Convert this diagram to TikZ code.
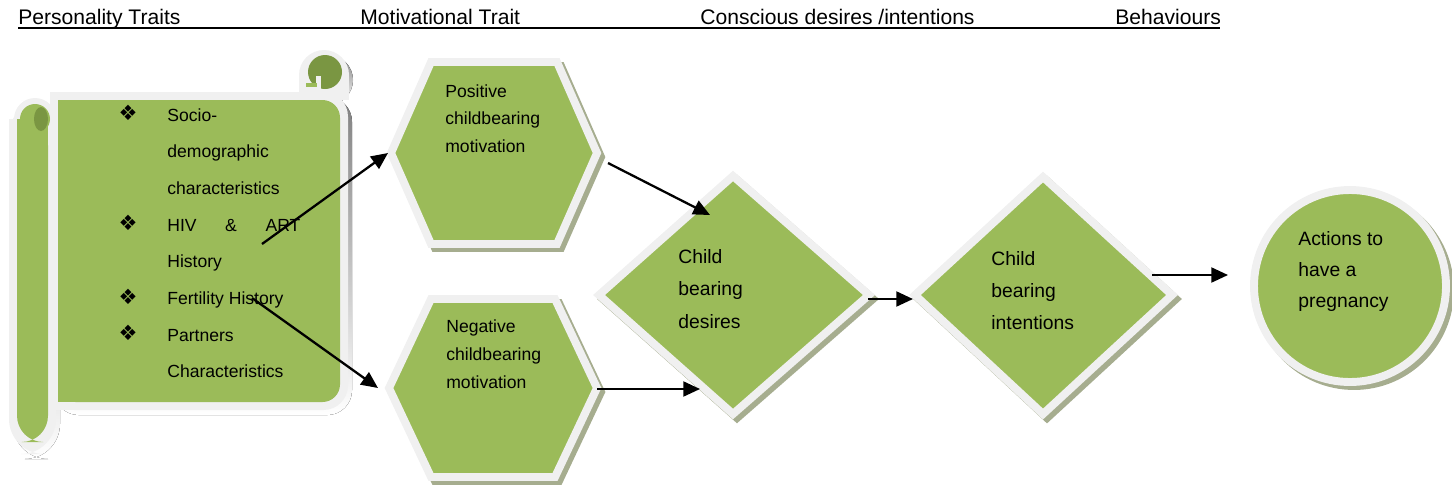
\documentclass[tikz,border=0pt]{standalone}
\usepackage{fontspec}
\setmainfont{Liberation Sans}
\newfontfamily\symfont{DejaVu Sans}
\usetikzlibrary{arrows.meta, calc}
\definecolor{leaf}{RGB}{155,187,89}
\definecolor{leafdark}{RGB}{122,150,66}
\definecolor{rim}{RGB}{240,240,240}
\definecolor{shade}{RGB}{166,173,143}

\begin{document}
\begin{tikzpicture}[x=0.02cm, y=-0.02cm, >={Triangle[length=9.5pt,width=8.5pt]},
		arr/.style={->, line width=1.3pt},
		shadow/.style={fill=shade, draw=shade, line width=4.5pt, shift={(4,4)}},
		panel/.style={fill=leaf, draw=rim, line width=4.5pt},
		head/.style={anchor=base west, inner sep=0pt, font=\fontsize{12}{14}\selectfont},
		item/.style={anchor=base west, inner sep=0pt, font=\fontsize{10}{12}\selectfont},
		big/.style={anchor=base west, inner sep=0pt, font=\fontsize{11}{13}\selectfont},
		bullet/.style={inner sep=0pt, font=\symfont\fontsize{12}{14}\selectfont}]
	
	\useasboundingbox (0,0) rectangle (1452,484);
	
	%========================
	% Header row
	%========================
	\node[head] (h1) at (18,24) {Personality Traits};
	\node[head] (h2) at (360,24) {Motivational Trait};
	\node[head] (h3) at (700,24) {Conscious desires /intentions};
	\node[head] (h4) at (1115,24) {Behaviours};
	\draw[line width=0.9pt] (18,28) -- (1220,28);
	
	%========================
	% Scroll: personality traits
	%========================
	% shadow
	\begin{scope}[shift={(4,5)}]
		\fill[shade, rounded corners=14] (50,92) rectangle (348,410);
		\fill[shade, rounded corners=20] (9,100) rectangle (56,454);
		\fill[shade] (324,75) circle (25);
	\end{scope}
	% rim
	\fill[rim, rounded corners=14] (50,92) rectangle (348,410);
	\fill[rim] (50,92) rectangle (80,410);
	\fill[rim, rounded corners=20] (9,100) rectangle (56,454);
	\fill[rim] (9,119) rectangle (56,200);
	\fill[rim] (35,119) circle (21);
	\fill[rim] (324,75) circle (25);
	\fill[rim] (299,75) rectangle (349,100);
	% green parts
	\fill[leaf, rounded corners=10] (58,100) rectangle (340,402);
	\fill[leaf] (58,100) rectangle (90,402);
	\fill[leaf, rounded corners=15] (17,119) rectangle (48,442);
	\fill[leaf] (17,119) rectangle (48,200);
	\fill[leaf] (35,119) circle (15);
	\fill[leafdark] (41,119) ellipse (7 and 12);
	\fill[leafdark] (325,72) circle (17);
	\fill[rim] (316,76) rectangle (321,89);
	\fill[leaf] (306,83) rectangle (317,87);
	
	% items
	\foreach \txt [count=\i from 0] in {Socio-, demographic, characteristics,
		{\hbox to 75.7pt{HIV\hfill\&\hfill ART}}, History, Fertility History,
		Partners, Characteristics}
	\node[item] (trait\i) at (167,{121+36.7*\i}) {\txt};
	\foreach \i in {0,3,5,6}
	\node[bullet] (dot\i) at (128,{113+36.7*\i}) {❖};
	
	%========================
	% Hexagons: motivation
	%========================
	\foreach \lay in {shadow,panel}
	\path[\lay] (391,153) -- (431,62) -- (557,62) -- (597,153) -- (557,244) -- (431,244) -- cycle;
	\foreach \lay in {shadow,panel}
	\path[\lay] (389,388) -- (431,299) -- (555,299) -- (597,388) -- (555,477) -- (431,477) -- cycle;
	
	\foreach \txt [count=\i from 0] in {Positive, childbearing, motivation}
	\node[item] (pos\i) at (445,{97+27.5*\i}) {\txt};
	\foreach \txt [count=\i from 0] in {Negative, childbearing, motivation}
	\node[item] (neg\i) at (446,{332+28*\i}) {\txt};
	
	%========================
	% Diamonds: desires / intentions
	%========================
	\foreach \lay in {shadow,panel}
	\path[\lay] (733,176) -- (869,295) -- (733,414) -- (599,295) -- cycle;
	\foreach \lay in {shadow,panel}
	\path[\lay] (1043,177) -- (1172,295) -- (1043,414) -- (915,295) -- cycle;
	
	\foreach \txt [count=\i from 0] in {Child, bearing, desires}
	\node[big] (des\i) at (678,{263+32.5*\i}) {\txt};
	\foreach \txt [count=\i from 0] in {Child, bearing, intentions}
	\node[big] (int\i) at (991,{265+32*\i}) {\txt};
	
	%========================
	% Circle: behaviour
	%========================
	\foreach \lay in {shadow,panel}
	\path[\lay] (1350,286) circle (96);
	\foreach \txt [count=\i from 0] in {Actions to, have a, pregnancy}
	\node[big] (act\i) at (1298,{245+31*\i}) {\txt};
	
	%========================
	% Connectors
	%========================
	\coordinate (trait-up) at (262,244);
	\coordinate (pos-in) at (388,153);
	\coordinate (trait-down) at (252,298);
	\coordinate (neg-in) at (378,388);
	\coordinate (pos-out) at (608,163);
	\coordinate (des-in1) at (710,215);
	\coordinate (neg-out) at (597,389);
	\coordinate (des-in2) at (700,389);
	\coordinate (des-out) at (868,299);
	\coordinate (int-in) at (913,299);
	\coordinate (int-out) at (1152,275);
	\coordinate (act-in) at (1228,275);
	
	\draw[arr] (trait-up) -- (pos-in);
	\draw[arr] (trait-down) -- (neg-in);
	\draw[arr] (pos-out) -- (des-in1);
	\draw[arr] (neg-out) -- (des-in2);
	\draw[arr] (des-out) -- (int-in);
	\draw[arr] (int-out) -- (act-in);
	
\end{tikzpicture}
\end{document}
